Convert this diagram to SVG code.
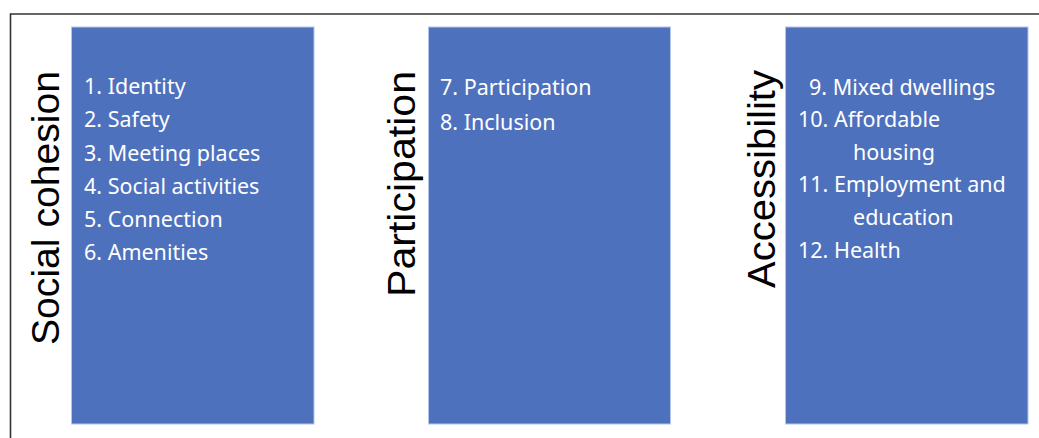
<svg xmlns="http://www.w3.org/2000/svg" width="1039" height="438" viewBox="0 0 1039 438">
  <style>
    .panel { fill: #4E71BD; stroke: #B4C5EA; stroke-width: 1; }
    .title { font-family: "Liberation Sans", Arial, sans-serif; font-size: 38px; fill: #000; text-anchor: end; }
    .item { font-family: "Noto Sans", "Liberation Sans", sans-serif; font-size: 21.5px; fill: #FFFFFF; }
  </style>
  <rect width="1039" height="438" fill="#FFFFFF"/>
  <!-- outer frame: top and left edges only -->
  <path d="M10.5 438 V14 H1039" fill="none" stroke="#333333" stroke-width="1.6"/>

  <g id="connectors"/>

  <g id="social-cohesion">
    <rect class="panel" x="71.5" y="27" width="242.5" height="397"/>
    <text class="title" transform="translate(59 71) rotate(-90)" x="0" y="0" textLength="274" lengthAdjust="spacingAndGlyphs">Social cohesion</text>
    <text class="item" x="84" y="94">1. Identity</text>
    <text class="item" x="84" y="127">2. Safety</text>
    <text class="item" x="84" y="161">3. Meeting places</text>
    <text class="item" x="84" y="194">4. Social activities</text>
    <text class="item" x="84" y="227">5. Connection</text>
    <text class="item" x="84" y="260">6. Amenities</text>
  </g>

  <g id="participation">
    <rect class="panel" x="428.5" y="27" width="242" height="397"/>
    <text class="title" transform="translate(415 71) rotate(-90)" x="0" y="0" textLength="226" lengthAdjust="spacingAndGlyphs">Participation</text>
    <text class="item" x="440" y="95">7. Participation</text>
    <text class="item" x="440" y="130">8. Inclusion</text>
  </g>

  <g id="accessibility">
    <rect class="panel" x="785.5" y="27" width="242.5" height="397"/>
    <text class="title" transform="translate(775 70) rotate(-90)" x="0" y="0" textLength="218" lengthAdjust="spacingAndGlyphs">Accessibility</text>
    <text class="item" x="809" y="95">9. Mixed dwellings</text>
    <text class="item" x="798" y="127">10. Affordable</text>
    <text class="item" x="853" y="160">housing</text>
    <text class="item" x="798" y="192">11. Employment and</text>
    <text class="item" x="853" y="225">education</text>
    <text class="item" x="798" y="258">12. Health</text>
  </g>
</svg>
